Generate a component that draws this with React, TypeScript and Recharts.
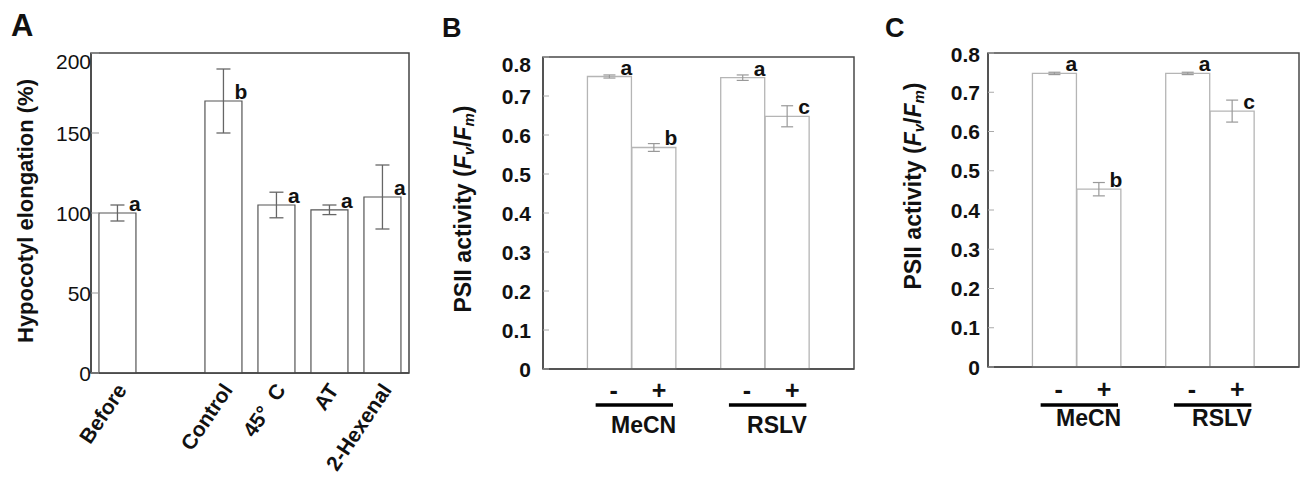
import React from 'react';
import { BarChart, Bar, XAxis, YAxis, ErrorBar, LabelList, ReferenceArea } from 'recharts';

const FONT = '"Liberation Sans", Arial, Helvetica, sans-serif';

// Panel A: hypocotyl elongation (%)
const elongCats = ['Before', '', 'Control', '45°\u00a0\u00a0C', 'AT', '2-Hexenal'];
const elongMean = [100, null, 170, 105, 102, 110];
const elongErr = [5, null, 20, 8, 3, 20];
const elongLetter = ['a', '', 'b', 'a', 'a', 'a'];
const elongTicks = [0, 50, 100, 150, 200];

// Panels B and C: PSII activity (Fv/Fm)
const psiiSigns = ['', '-', '+', '', '-', '+', ''];
const psiiGroups = ['', 'MeCN', 'MeCN', '', 'RSLV', 'RSLV', ''];
const psiiMeanB = [0, 0.75, 0.568, 0, 0.747, 0.648, 0];
const psiiErrB = [0, 0.004, 0.01, 0, 0.007, 0.027, 0];
const psiiLetterB = ['', 'a', 'b', '', 'a', 'c', ''];
const psiiMeanC = [0, 0.748, 0.453, 0, 0.748, 0.652, 0];
const psiiErrC = [0, 0.003, 0.017, 0, 0.003, 0.028, 0];
const psiiLetterC = ['', 'a', 'b', '', 'a', 'c', ''];
const psiiTicks = [0, 0.1, 0.2, 0.3, 0.4, 0.5, 0.6, 0.7, 0.8];

const elongData = elongCats.map((name, i) => ({
  name,
  value: elongMean[i],
  err: elongErr[i],
  letter: elongLetter[i],
}));

const makePsii = (mean: number[], err: number[], letters: string[]) =>
  psiiSigns.map((sign, i) => ({ sign, value: mean[i], err: err[i], letter: letters[i] }));

const dataB = makePsii(psiiMeanB, psiiErrB, psiiLetterB);
const dataC = makePsii(psiiMeanC, psiiErrC, psiiLetterC);

function YTick(props: any) {
  const { x, y, payload, top, topShift, weight, size } = props;
  const dy = payload.value === top ? topShift : 0;
  return (
    <text x={x} y={y + dy} dy="0.36em" textAnchor="end" fontFamily={FONT} fontSize={size}
      fontWeight={weight} fill="#111">
      {payload.value}
    </text>
  );
}

function RotTick(props: any) {
  const { x, y, payload } = props;
  const ax = x + 10;
  const ay = y + 17;
  return (
    <text x={ax} y={ay} transform={`rotate(-56 ${ax} ${ay})`} textAnchor="end" fontFamily={FONT}
      fontSize={21} fontWeight="bold" fill="#111">
      {payload.value}
    </text>
  );
}

function SignTick(props: any) {
  const { x, y, index, cfg } = props;
  const s = psiiSigns[index];
  if (!s) return null;
  return (
    <g fontFamily={FONT} fontWeight="bold" fill="#111">
      <text x={x + (s === '-' ? 4 : 5)} y={y + cfg.signDy} textAnchor="middle" fontSize={25}>
        {s}
      </text>
      {s === '-' && (
        <>
          <line x1={x - 14} x2={x + cfg.band + 19} y1={y + cfg.lineDy} y2={y + cfg.lineDy}
            stroke="#000" strokeWidth={3.5} />
          <text x={x + 34} y={y + cfg.nameDy} textAnchor="middle" fontSize={23}>
            {psiiGroups[index]}
          </text>
        </>
      )}
    </g>
  );
}

function Letter(props: any) {
  const vb = props.viewBox ?? props;
  const { value, shift } = props;
  if (!value) return null;
  return (
    <text x={vb.x + vb.width - shift} y={vb.y - 2} textAnchor="middle" fontFamily={FONT}
      fontSize={21} fontWeight="bold" fill="#111">
      {value}
    </text>
  );
}

function ElongTitle() {
  return (
    <text x={25} y={211} transform="rotate(-90 25 211)" textAnchor="middle" dominantBaseline="central"
      fontFamily={FONT} fontSize={22} fontWeight="bold" fill="#111">
      Hypocotyl elongation (%)
    </text>
  );
}

function PsiiTitle({ cx, cy }: { cx: number; cy: number }) {
  return (
    <text x={cx} y={cy} transform={`rotate(-90 ${cx} ${cy})`} textAnchor="middle" dominantBaseline="central"
      fontFamily={FONT} fontSize={23} fontWeight="bold" fill="#111">
      PSII activity (<tspan fontStyle="italic">F</tspan>
      <tspan fontStyle="italic" fontSize={15} dy={5}>v</tspan>
      <tspan dy={-5}>/</tspan>
      <tspan fontStyle="italic">F</tspan>
      <tspan fontStyle="italic" fontSize={15} dy={5}>m</tspan>
      <tspan dy={-5}>)</tspan>
    </text>
  );
}

function PsiiChart({ data, margin, width, titleX, titleY, tickMargin, topShift, cfg }: any) {
  return (
    <BarChart width={width} height={482} data={data} margin={margin} barCategoryGap={0}>
      <ReferenceArea y1={0} y2={0.8} fill="none" stroke="#4a4a4a" strokeWidth={1.5} ifOverflow="visible" />
      <XAxis dataKey="sign" axisLine={{ stroke: '#4a4a4a', strokeWidth: 1.5 }} tickLine={false}
        tickSize={0} tickMargin={0} height={100} interval={0}
        tick={(p: any) => <SignTick {...p} cfg={cfg} />} />
      <YAxis type="number" domain={[0, 0.8]} ticks={psiiTicks} width={60}
        axisLine={{ stroke: '#4a4a4a', strokeWidth: 1.5 }} tickLine={{ stroke: '#aaa' }}
        tickSize={-6} tickMargin={tickMargin}
        tick={(p: any) => <YTick {...p} top={0.8} topShift={topShift} weight="bold" size={21} />}
        label={<PsiiTitle cx={titleX} cy={titleY} />} />
      <Bar dataKey="value" fill="#fff" stroke="#b5b5b5" strokeWidth={1.3} isAnimationActive={false}>
        <ErrorBar dataKey="err" width={6} stroke="#999" strokeWidth={1.2} isAnimationActive={false} />
        <LabelList dataKey="letter" content={(p: any) => <Letter {...p} shift={5} />} />
      </Bar>
    </BarChart>
  );
}

export default function App() {
  return (
    <div style={{ position: 'absolute', left: 0, top: 0, width: 1307, height: 482, background: '#fff' }}>
      <div style={{ position: 'absolute', left: 0, top: 0 }}>
        <BarChart width={440} height={482} data={elongData}
          margin={{ top: 53, right: 31, bottom: 9, left: 31 }} barCategoryGap="15%">
          <ReferenceArea y1={0} y2={200} fill="none" stroke="#444" strokeWidth={1.5} ifOverflow="visible" />
          <XAxis dataKey="name" axisLine={{ stroke: '#444', strokeWidth: 1.5 }} tickLine={false}
            tickSize={0} tickMargin={0} height={100} interval={0} tick={<RotTick />} />
          <YAxis type="number" domain={[0, 200]} ticks={elongTicks} width={60}
            axisLine={{ stroke: '#444', strokeWidth: 1.5 }} tickLine={{ stroke: '#999' }}
            tickSize={-8} tickMargin={8}
            tick={(p: any) => <YTick {...p} top={200} topShift={8} weight="normal" size={21} />}
            label={<ElongTitle />} />
          <Bar dataKey="value" fill="#fff" stroke="#555" strokeWidth={1.2} isAnimationActive={false}>
            <ErrorBar dataKey="err" width={7} stroke="#666" strokeWidth={1.3} isAnimationActive={false} />
            <LabelList dataKey="letter" content={(p: any) => <Letter {...p} shift={1} />} />
          </Bar>
        </BarChart>
      </div>
      <div style={{ position: 'absolute', left: 440, top: 0 }}>
        <PsiiChart data={dataB} width={430} margin={{ top: 57, right: 16, bottom: 13, left: 43 }}
          titleX={23} titleY={209} tickMargin={18} topShift={7}
          cfg={{ band: 44.4, signDy: 30, lineDy: 36, nameDy: 64 }} />
      </div>
      <div style={{ position: 'absolute', left: 870, top: 0 }}>
        <PsiiChart data={dataC} width={437} margin={{ top: 53, right: 8, bottom: 15, left: 58 }}
          titleX={43} titleY={186} tickMargin={14} topShift={1}
          cfg={{ band: 44.4, signDy: 31, lineDy: 38, nameDy: 59 }} />
      </div>
      <svg width={1307} height={482} style={{ position: 'absolute', left: 0, top: 0, pointerEvents: 'none' }}
        fontFamily={FONT} fontWeight="bold" fill="#111">
        <text x={11} y={36} fontSize={31}>A</text>
        <text x={442} y={37} fontSize={27}>B</text>
        <text x={885} y={37} fontSize={27}>C</text>
      </svg>
    </div>
  );
}
